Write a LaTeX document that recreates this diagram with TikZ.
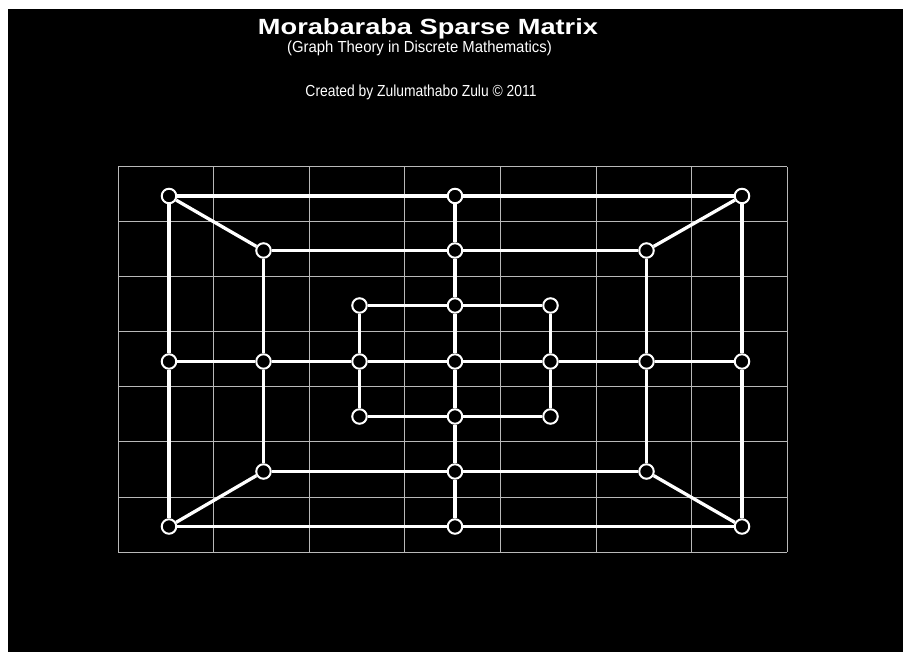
\documentclass[tikz,border=0pt]{standalone}
\usepackage{fontspec}
\setmainfont{Liberation Sans}
\begin{document}
\begin{tikzpicture}[x=1pt,y=-1pt,
  gridline/.style={draw=gray!55, line width=1pt},
  pt/.style={circle, draw=white, fill=black, line width=2pt, minimum size=14.5pt, inner sep=0pt},
  edge/.style={draw=white, line width=3.3pt},
  txt/.style={text=white, inner sep=0pt, anchor=base}]
\useasboundingbox (0,0) rectangle (903,652);
\fill[white] (0,0) rectangle (903,652);
\fill[black] (8,9) rectangle (903,652);
% titles
\node[txt, font=\bfseries\fontsize{22}{24}\selectfont, xscale=1.236] (title) at (428,35) {Morabaraba Sparse Matrix};
\node[txt, font=\fontsize{16}{18}\selectfont, xscale=0.93] (sub) at (419.5,52.5) {(Graph Theory in Discrete Mathematics)};
\node[txt, font=\fontsize{16}{18}\selectfont, xscale=0.866] (cred) at (421,96.5) {Created by Zulumathabo Zulu © 2011};
% grid
\foreach \i in {0,...,7} {
  \draw[gridline] ({118+95.6*\i},167) -- ({118+95.6*\i},552);
  \draw[gridline] (118,{167+55*\i}) -- (787.2,{167+55*\i});
}
% nodes
\def\xs{{169,263.5,359.5,455,550.5,646.5,742}}
\def\ys{{196,250.5,305.5,361.5,416.5,471.5,526.5}}
\foreach \i/\j in {0/0,3/0,6/0,1/1,3/1,5/1,2/2,3/2,4/2,0/3,1/3,2/3,3/3,4/3,5/3,6/3,2/4,3/4,4/4,1/5,3/5,5/5,0/6,3/6,6/6} {
  \pgfmathsetmacro\px{\xs[\i]}
  \pgfmathsetmacro\py{\ys[\j]}
  \node[pt] (n\i\j) at (\px,\py) {};
}
% edges
\foreach \a/\b in {00/30,30/60,60/63,63/66,66/36,36/06,06/03,03/00,
                   11/31,31/51,51/53,53/55,55/35,35/15,15/13,13/11,
                   22/32,32/42,42/43,43/44,44/34,34/24,24/23,23/22,
                   03/13,13/23,23/33,33/43,43/53,53/63,
                   30/31,31/32,32/33,33/34,34/35,35/36,
                   00/11,60/51,06/15,66/55}
  \draw[edge] (n\a) -- (n\b);
\end{tikzpicture}
\end{document}
